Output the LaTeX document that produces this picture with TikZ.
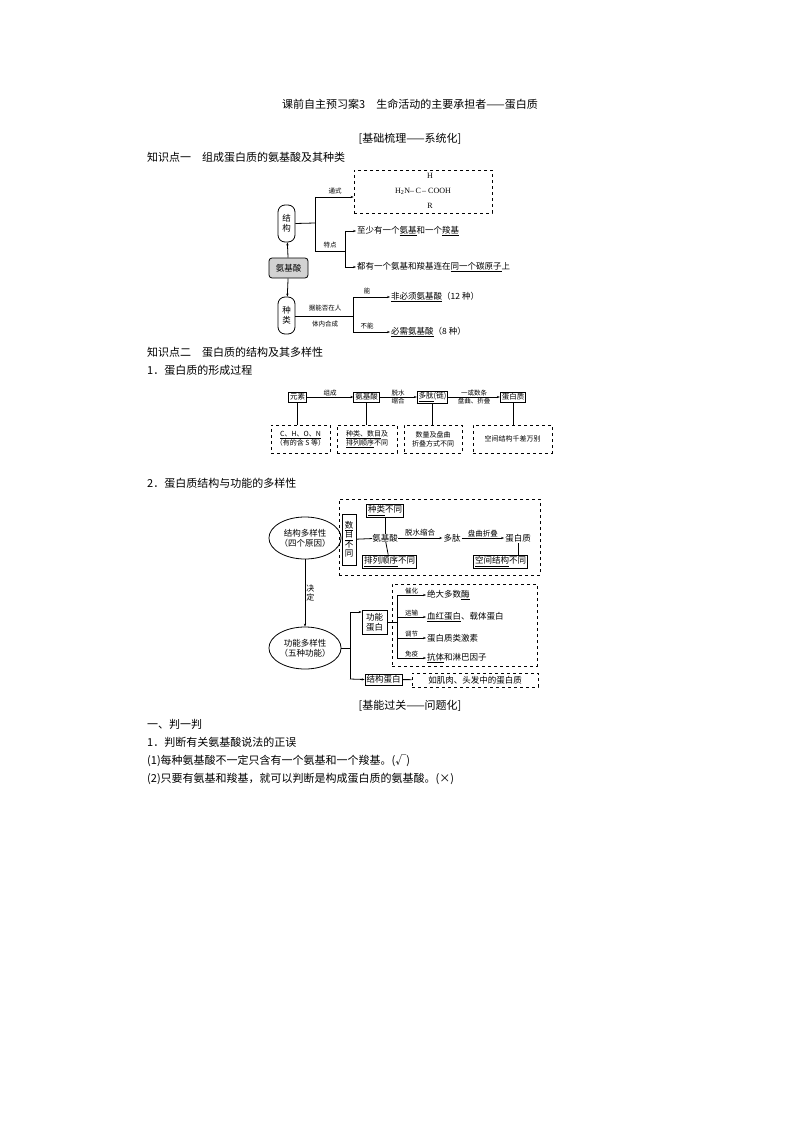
\documentclass[tikz,border=0pt]{standalone}
\usepackage{fontspec}
\setmainfont{Liberation Serif}
\newfontfamily\cjk{Noto Sans CJK SC}
\usetikzlibrary{arrows.meta,shapes.geometric}
\begin{document}
\begin{tikzpicture}[x=1pt,y=-1pt,font=\cjk,
 bx/.style={draw,thick,inner sep=1.5pt,font=\cjk\fontsize{8.5}{10}\selectfont},
 dbx/.style={draw,dashed,thick},
 ln/.style={thick},
 ar/.style={thick,-{Stealth[length=3pt]}},
 sm/.style={font=\cjk\fontsize{6.5}{7}\selectfont,inner sep=1pt},
 tx/.style={font=\cjk\fontsize{8.5}{10}\selectfont,inner sep=1pt,anchor=west},
 body/.style={font=\cjk\fontsize{11}{13}\selectfont,anchor=west,inner sep=0pt}]
\useasboundingbox (0,0) rectangle (794,1123);
\node[body,anchor=center] (title) at (410,104) {课前自主预习案3\quad 生命活动的主要承担者——蛋白质};
\node[body,anchor=center] (h1) at (410,139) {[基础梳理——系统化]};
\node[body] (k1) at (147,157) {知识点一\quad 组成蛋白质的氨基酸及其种类};
% top diagram
\node[dbx,minimum width=138,minimum height=43] (formula) at (423,191.5) {};
\node[font=\fontsize{8}{9}\selectfont] (fH) at (430,176) {H};
\node[font=\fontsize{8}{9}\selectfont] (fm) at (423,191) {H\textsubscript{2}N--\,C\,-- COOH};
\node[font=\fontsize{8}{9}\selectfont] (fR) at (430,206) {R};
\node[bx,rounded corners=7pt,minimum width=17,minimum height=37,align=center,inner sep=0pt] (jg) at (286.5,223.5) {结\\构};
\node[bx,rounded corners=3pt,fill=gray!35,minimum width=39,minimum height=20] (ajs) at (288.5,268) {氨基酸};
\node[bx,rounded corners=7pt,minimum width=17,minimum height=37,align=center,inner sep=0pt] (zl) at (286.5,315.5) {种\\类};
\draw[ar] (ajs) -- (jg);
\draw[ar] (ajs) -- (zl);
\coordinate (b1) at (315,223);
\draw[ln] (jg.east) -- (b1);
\draw[ln] (315,197) -- (315,251) -- (345,251);
\draw[ar] (315,197) -- (formula.west |- 0,197);
\node[sm] (tsl) at (335,191) {通式};
\node[sm] (tdl) at (330,245) {特点};
\draw[ln] (345,231) -- (345,267);
\node[tx] (t1) at (356,231) {至少有一个\underline{氨基}和一个\underline{羧基}};
\node[tx] (t2) at (356,267) {都有一个氨基和羧基连在\underline{同一个碳原子}上};
\draw[ar] (345,231) -- (t1.west);
\draw[ar] (345,267) -- (t2.west);
\draw[ln] (zl.east |- 0,316) -- (353,316);
\draw[ln] (353,297) -- (353,332);
\node[sm] (l1) at (325,308) {据能否在人};
\node[sm] (l2) at (325,324) {体内合成};
\node[sm] (nn) at (367,291) {能};
\node[sm] (bn) at (367,326) {不能};
\node[tx] (fb) at (390,297) {\underline{非必须氨基酸}（12 种）};
\node[tx] (bx2) at (390,332) {\underline{必需氨基酸}（8 种）};
\draw[ar] (353,297) -- (fb.west);
\draw[ar] (353,332) -- (bx2.west);
\node[body] (k2) at (147,352) {知识点二\quad 蛋白质的结构及其多样性};
\node[body] (s1) at (147,370) {1．蛋白质的形成过程};
% formation
\node[bx,font=\cjk\fontsize{7.5}{9}\selectfont] (ys) at (297.5,397) {元素};
\node[bx,font=\cjk\fontsize{7.5}{9}\selectfont] (ajs2) at (366.5,397) {氨基酸};
\node[bx,font=\cjk\fontsize{7.5}{9}\selectfont] (dt) at (432.5,397) {\underline{多肽}(链)};
\node[bx,font=\cjk\fontsize{7.5}{9}\selectfont] (dbz) at (513,397) {蛋白质};
\draw[ar] (ys) -- node[sm,above]{组成} (ajs2);
\draw[ar] (ajs2) -- node[sm,above]{脱水} node[sm,below]{缩合} (dt);
\draw[ar] (dt) -- node[sm,above]{一或数条} node[sm,below]{盘曲、折叠} (dbz);
\node[dbx,minimum width=59,minimum height=28,align=center,inner sep=0pt,font=\cjk\fontsize{7}{9}\selectfont] (d1) at (300.5,439) {\underline{C、H、O、N}\\（有的含 S 等）};
\node[dbx,minimum width=60,minimum height=28,align=center,inner sep=0pt,font=\cjk\fontsize{7}{9}\selectfont] (d2) at (367,439) {\underline{种类、数目}及\\\underline{排列顺序}不同};
\node[dbx,minimum width=58,minimum height=28,align=center,inner sep=0pt,font=\cjk\fontsize{7}{9}\selectfont] (d3) at (433,439) {数量及盘曲\\折叠方式不同};
\node[dbx,minimum width=79,minimum height=28,align=center,inner sep=0pt,font=\cjk\fontsize{7}{9}\selectfont] (d4) at (512.5,439) {空间结构千差万别};
\draw[ln] (ys) -- (ys |- d1.north);
\draw[ln] (ajs2) -- (ajs2 |- d2.north);
\draw[ln] (dt) -- (dt |- d3.north);
\draw[ln] (dbz) -- (dbz |- d4.north);
\node[body] (s2) at (147,483) {2．蛋白质结构与功能的多样性};
% diversity
\node[dbx,minimum width=201,minimum height=76] (big1) at (439.5,537) {};
\node[draw,ellipse,thick,minimum width=54,minimum height=42,inner sep=0pt,align=center,font=\cjk\fontsize{8.5}{10}\selectfont] (e1) at (305,538) {结构多样性\\（四个原因）};
\node[bx,minimum width=14,minimum height=51,align=center,inner sep=0pt,font=\cjk\fontsize{8.5}{9.5}\selectfont] (sm1) at (349,539.5) {\underline{数}\\\underline{目}\\不\\同};
\node[bx] (zlbt) at (385,510.5) {\underline{种类}不同};
\node[bx] (plsx) at (389.5,561.5) {\underline{排列顺序}不同};
\node[tx,anchor=center,inner sep=0pt] (ajs3) at (385,538) {氨基酸};
\draw[ln] (sm1) -- (ajs3);
\draw[ln] (zlbt) -- (ajs3);
\draw[ln] (ajs3) -- (plsx);
\node[tx,anchor=center] (dt3) at (452,538) {多肽};
\node[tx,anchor=center] (dbz3) at (518,538) {蛋白质};
\draw[ar] (ajs3) -- node[sm,above,font=\cjk\fontsize{7.5}{8}\selectfont]{脱水缩合} (dt3);
\draw[ar] (dt3) -- node[sm,above,font=\cjk\fontsize{7.5}{8}\selectfont]{盘曲折叠} (dbz3);
\node[bx] (kjjg) at (500.5,561.5) {\underline{空间结构}不同};
\draw[ln] (dbz3) -- (dbz3 |- kjjg.north);
\node[draw,ellipse,thick,minimum width=54,minimum height=42,inner sep=0pt,align=center,font=\cjk\fontsize{8.5}{10}\selectfont] (e2) at (305,648) {功能多样性\\（五种功能）};
\draw[ar] (e1) -- node[right,sm,align=center,font=\cjk\fontsize{8}{9}\selectfont]{决\\定} (e2);
\node[dbx,minimum width=145,minimum height=82] (big2) at (464.5,625) {};
\node[bx,minimum width=25,minimum height=24,align=center,inner sep=0pt] (gn) at (374.5,622) {功能\\蛋白};
\node[bx] (jgdb) at (383.5,679.5) {结构蛋白};
\draw[ln] (e2.east) -- (350,648);
\draw[ln] (350,612) -- (350,679);
\draw[ar] (350,612) -- (gn.west |- 0,612);
\draw[ar] (350,679) -- (jgdb.west);
\draw[ln] (gn.east) -- (397,622);
\draw[ln] (397,595) -- (397,658);
\node[tx] (f1) at (426,595) {绝大多数\underline{酶}};
\node[tx] (f2) at (426,617) {\underline{血红蛋白}、载体蛋白};
\node[tx] (f3) at (426,638) {蛋白质类激素};
\node[tx] (f4) at (426,658) {\underline{抗体}和淋巴因子};
\draw[ar] (397,595) -- node[sm,above]{催化} (f1.west);
\draw[ar] (397,617) -- node[sm,above]{运输} (f2.west);
\draw[ar] (397,638) -- node[sm,above]{调节} (f3.west);
\draw[ar] (397,658) -- node[sm,above]{免疫} (f4.west);
\node[dbx,minimum width=126,minimum height=14,inner sep=0pt,font=\cjk\fontsize{8.5}{10}\selectfont] (jr) at (475,680) {如肌肉、头发中的蛋白质};
\draw[ln] (jgdb) -- (jr);
\node[body,anchor=center] (h2) at (410,706) {[基能过关——问题化]};
\node[body] (p0) at (147,724) {一、判一判};
\node[body] (p1) at (147,742) {1．判断有关氨基酸说法的正误};
\node[body] (p2) at (147,761) {(1)每种氨基酸不一定只含有一个氨基和一个羧基。(√)};
\node[body] (p3) at (147,779) {(2)只要有氨基和羧基，就可以判断是构成蛋白质的氨基酸。(×)};
\end{tikzpicture}
\end{document}
